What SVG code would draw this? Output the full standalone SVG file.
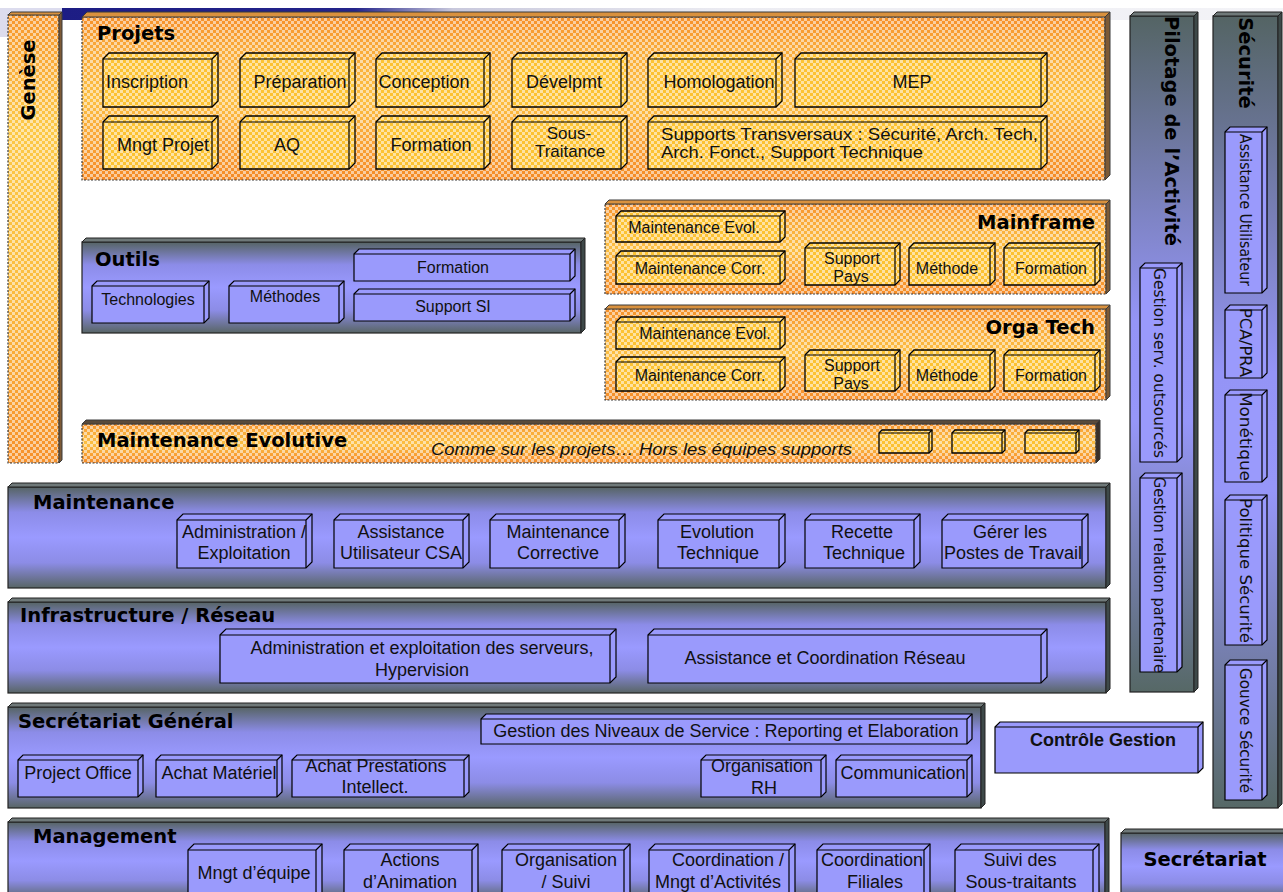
<svg xmlns="http://www.w3.org/2000/svg" width="1283" height="892" viewBox="0 0 1283 892">
<defs>
  <linearGradient id="gHead" x1="0" y1="0" x2="1" y2="0">
    <stop offset="0" stop-color="#1d1d84"/>
    <stop offset="0.24" stop-color="#24248a"/>
    <stop offset="0.32" stop-color="#c8c8dc"/>
    <stop offset="0.55" stop-color="#ececf2"/>
    <stop offset="1" stop-color="#f3f3f7"/>
  </linearGradient>
  <linearGradient id="gOr" x1="0" y1="0" x2="0" y2="1">
    <stop offset="0" stop-color="#f6902a"/>
    <stop offset="0.2" stop-color="#f9ab3a"/>
    <stop offset="0.5" stop-color="#fcbf42"/>
    <stop offset="0.8" stop-color="#f8a034"/>
    <stop offset="1" stop-color="#f48a26"/>
  </linearGradient>
  <linearGradient id="gGen" x1="0" y1="0" x2="0" y2="1">
    <stop offset="0" stop-color="#f7962c"/>
    <stop offset="0.25" stop-color="#fcc846"/>
    <stop offset="0.6" stop-color="#fbbd40"/>
    <stop offset="1" stop-color="#f6902a"/>
  </linearGradient>
  <linearGradient id="gBand" x1="0" y1="0" x2="0" y2="1">
    <stop offset="0" stop-color="#566464"/>
    <stop offset="0.25" stop-color="#8c8ce8"/>
    <stop offset="0.5" stop-color="#9a9aff"/>
    <stop offset="0.75" stop-color="#8c8ce6"/>
    <stop offset="1" stop-color="#586565"/>
  </linearGradient>
  <linearGradient id="gCol" x1="0" y1="0" x2="0" y2="1">
    <stop offset="0" stop-color="#546464"/>
    <stop offset="0.45" stop-color="#9494f6"/>
    <stop offset="0.6" stop-color="#9696f8"/>
    <stop offset="1" stop-color="#566866"/>
  </linearGradient>
  <pattern id="dots" width="6" height="6" patternUnits="userSpaceOnUse">
    <rect width="3" height="3" fill="#fff" fill-opacity="0.55"/>
    <rect x="3" y="3" width="3" height="3" fill="#fff" fill-opacity="0.55"/>
  </pattern>
  <pattern id="pIn" width="6" height="6" patternUnits="userSpaceOnUse">
    <rect width="6" height="6" fill="#fcc232"/>
    <rect width="3" height="3" fill="#fff" fill-opacity="0.55"/>
    <rect x="3" y="3" width="3" height="3" fill="#fff" fill-opacity="0.55"/>
  </pattern>
</defs>
<style>
  .t { font-family: "Liberation Sans", Arial, sans-serif; font-size: 18px; fill: #111; text-anchor: middle; }
  .s16 { font-size: 16px; }
  .s17 { font-size: 17px; }
  .h { font-family: "DejaVu Sans", Verdana, sans-serif; font-weight: bold; font-size: 19.5px; fill: #000; }
  .v { font-family: "DejaVu Sans", Verdana, sans-serif; font-size: 15px; fill: #111; }
  .it { font-family: "Liberation Sans", Arial, sans-serif; font-style: italic; font-size: 17px; fill: #111; }
  .ob { fill: url(#gOr); }
  .od { fill: url(#dots); stroke: #3a3a3a; stroke-width: 1.2; stroke-dasharray: 2 1.5; }
  .otop { fill: #d9913e; stroke: #3a3a3a; stroke-width: 1; }
  .oside { fill: #7d5a36; stroke: #3a3a3a; stroke-width: 1; }
  .ib { fill: url(#pIn); stroke: #000; stroke-width: 1.3; }
  .bb { fill: #9a9afc; stroke: #000; stroke-width: 1.2; }
  .e { fill: none; stroke: #000; stroke-width: 1.2; }
  .bf { fill: url(#gBand); stroke: #222; stroke-width: 1.2; }
  .cf { fill: url(#gCol); stroke: #222; stroke-width: 1.2; }
  .bt { fill: #6f7979; stroke: #222; stroke-width: 1; }
  .bs { fill: #3e4949; stroke: #222; stroke-width: 1; }
</style>

<!-- header strip -->
<g id="header">
  <rect x="0" y="8" width="62" height="29" fill="#dcdcee"/>
  <rect x="62" y="8" width="1221" height="12" fill="url(#gHead)"/>
</g>

<!-- Genèse -->
<g id="genese">
  <rect x="8" y="15" width="51" height="448" fill="url(#gGen)"/>
  <rect class="od" x="8" y="15" width="51" height="448"/>
  <polygon class="otop" points="8,15 11,12 62,12 59,15"/>
  <polygon class="oside" points="59,15 62,12 62,460 59,463"/>
  <text class="h" transform="translate(35,80) rotate(-90)" text-anchor="middle">Genèse</text>
</g>

<!-- Projets -->
<g id="projets">
  <rect class="ob" x="82" y="17" width="1023" height="163"/>
  <rect class="od" x="82" y="17" width="1023" height="163"/>
  <polygon class="otop" points="82,17 87,12 1110,12 1105,17"/>
  <polygon class="oside" points="1105,17 1110,12 1110,175 1105,180"/>
  <text class="h" x="97" y="40">Projets</text>
  <g id="p-inscription"><path class="ib" d="M103 59L109 53H218V101L212 107H103Z"/><path class="e" d="M103 59H212V107M212 59L218 53"/><text class="t" x="147" y="88">Inscription</text></g>
  <g id="p-preparation"><path class="ib" d="M240 59L246 53H355V101L349 107H240Z"/><path class="e" d="M240 59H349V107M349 59L355 53"/><text class="t" x="300" y="88">Préparation</text></g>
  <g id="p-conception"><path class="ib" d="M376 59L382 53H490V101L484 107H376Z"/><path class="e" d="M376 59H484V107M484 59L490 53"/><text class="t" x="424" y="88">Conception</text></g>
  <g id="p-develpmt"><path class="ib" d="M512 59L518 53H627V101L621 107H512Z"/><path class="e" d="M512 59H621V107M621 59L627 53"/><text class="t" x="564" y="88">Dévelpmt</text></g>
  <g id="p-homologation"><path class="ib" d="M648 59L654 53H782V101L776 107H648Z"/><path class="e" d="M648 59H776V107M776 59L782 53"/><text class="t" x="719" y="88">Homologation</text></g>
  <g id="p-mep"><path class="ib" d="M795 59L801 53H1047V101L1041 107H795Z"/><path class="e" d="M795 59H1041V107M1041 59L1047 53"/><text class="t" x="912" y="88">MEP</text></g>
  <g id="p-mngt"><path class="ib" d="M103 122L109 116H218V163L212 169H103Z"/><path class="e" d="M103 122H212V169M212 122L218 116"/><text class="t" x="163" y="151">Mngt Projet</text></g>
  <g id="p-aq"><path class="ib" d="M240 122L246 116H355V163L349 169H240Z"/><path class="e" d="M240 122H349V169M349 122L355 116"/><text class="t" x="287" y="151">AQ</text></g>
  <g id="p-formation"><path class="ib" d="M376 122L382 116H490V163L484 169H376Z"/><path class="e" d="M376 122H484V169M484 122L490 116"/><text class="t" x="431" y="151">Formation</text></g>
  <g id="p-soustraitance"><path class="ib" d="M512 122L518 116H627V163L621 169H512Z"/><path class="e" d="M512 122H621V169M621 122L627 116"/><text class="t s17" x="569" y="139">Sous-</text><text class="t s17" x="570" y="157">Traitance</text></g>
  <g id="p-supports"><path class="ib" d="M648 122L654 116H1047V163L1041 169H648Z"/><path class="e" d="M648 122H1041V169M1041 122L1047 116"/><text class="t s17" x="661" y="140" style="text-anchor:start" textLength="377" lengthAdjust="spacingAndGlyphs">Supports Transversaux : Sécurité, Arch. Tech,</text><text class="t s17" x="661" y="158" style="text-anchor:start" textLength="262" lengthAdjust="spacingAndGlyphs">Arch. Fonct., Support Technique</text></g>
</g>

<!-- Outils -->
<g id="outils">
  <rect class="bf" x="82" y="242" width="499" height="91"/>
  <polygon class="bt" points="82,242 86,238 585,238 581,242"/>
  <polygon class="bs" points="581,242 585,238 585,329 581,333"/>
  <text class="h" x="95" y="266">Outils</text>
  <g id="o-techno"><path class="bb" d="M92 286L97 281H209V318L204 323H92Z"/><path class="e" d="M92 286H204V323M204 286L209 281"/><text class="t s16" x="148" y="305">Technologies</text></g>
  <g id="o-methodes"><path class="bb" d="M229 286L234 281H344V318L339 323H229Z"/><path class="e" d="M229 286H339V323M339 286L344 281"/><text class="t s16" x="285" y="302">Méthodes</text></g>
  <g id="o-formation"><path class="bb" d="M354 254L359 249H575V276L570 281H354Z"/><path class="e" d="M354 254H570V281M570 254L575 249"/><text class="t s16" x="453" y="273">Formation</text></g>
  <g id="o-supportsi"><path class="bb" d="M354 294L359 289H575V316L570 321H354Z"/><path class="e" d="M354 294H570V321M570 294L575 289"/><text class="t s16" x="453" y="312">Support SI</text></g>
</g>

<!-- Mainframe -->
<g id="mainframe">
  <rect class="ob" x="605" y="204" width="501" height="90"/>
  <rect class="od" x="605" y="204" width="501" height="90"/>
  <polygon class="otop" points="605,204 609,200 1110,200 1106,204"/>
  <polygon class="oside" points="1106,204 1110,200 1110,290 1106,294"/>
  <text class="h" x="1095" y="229" text-anchor="end">Mainframe</text>
  <g id="m-evol"><path class="ib" d="M616 216L621 211H785V237L780 242H616Z"/><path class="e" d="M616 216H780V242M780 216L785 211"/><text class="t s16" x="694" y="233">Maintenance Evol.</text></g>
  <g id="m-corr"><path class="ib" d="M616 256L621 251H785V279L780 284H616Z"/><path class="e" d="M616 256H780V284M780 256L785 251"/><text class="t s16" x="700" y="274">Maintenance Corr.</text></g>
  <g id="m-support"><path class="ib" d="M805 248L810 243H900V280L895 285H805Z"/><path class="e" d="M805 248H895V285M895 248L900 243"/><text class="t s16" x="852" y="264">Support</text><text class="t s16" x="851" y="282">Pays</text></g>
  <g id="m-methode"><path class="ib" d="M909 248L914 243H995V280L990 285H909Z"/><path class="e" d="M909 248H990V285M990 248L995 243"/><text class="t s16" x="947" y="274">Méthode</text></g>
  <g id="m-formation"><path class="ib" d="M1004 248L1009 243H1100V280L1095 285H1004Z"/><path class="e" d="M1004 248H1095V285M1095 248L1100 243"/><text class="t s16" x="1051" y="274">Formation</text></g>
</g>

<!-- Orga Tech -->
<g id="orgatech">
  <rect class="ob" x="605" y="309" width="501" height="91"/>
  <rect class="od" x="605" y="309" width="501" height="91"/>
  <polygon class="otop" points="605,309 609,305 1110,305 1106,309"/>
  <polygon class="oside" points="1106,309 1110,305 1110,396 1106,400"/>
  <text class="h" x="1095" y="334" text-anchor="end">Orga Tech</text>
  <g id="ot-evol"><path class="ib" d="M616 322L621 317H785V344L780 349H616Z"/><path class="e" d="M616 322H780V349M780 322L785 317"/><text class="t s16" x="705" y="339">Maintenance Evol.</text></g>
  <g id="ot-corr"><path class="ib" d="M616 362L621 357H785V386L780 391H616Z"/><path class="e" d="M616 362H780V391M780 362L785 357"/><text class="t s16" x="700" y="381">Maintenance Corr.</text></g>
  <g id="ot-support"><path class="ib" d="M805 355L810 350H900V386L895 391H805Z"/><path class="e" d="M805 355H895V391M895 355L900 350"/><text class="t s16" x="852" y="371">Support</text><text class="t s16" x="851" y="389">Pays</text></g>
  <g id="ot-methode"><path class="ib" d="M909 355L914 350H995V386L990 391H909Z"/><path class="e" d="M909 355H990V391M990 355L995 350"/><text class="t s16" x="947" y="381">Méthode</text></g>
  <g id="ot-formation"><path class="ib" d="M1004 355L1009 350H1100V386L1095 391H1004Z"/><path class="e" d="M1004 355H1095V391M1095 355L1100 350"/><text class="t s16" x="1051" y="381">Formation</text></g>
</g>

<!-- Maintenance Evolutive -->
<g id="maint-evolutive">
  <rect class="ob" x="82" y="424" width="1014" height="39"/>
  <rect class="od" x="82" y="424" width="1014" height="39"/>
  <polygon class="otop" points="82,424 86,420 1100,420 1096,424" style="fill:#5a4a3a"/>
  <polygon class="oside" points="1096,424 1100,420 1100,459 1096,463" style="fill:#3a3028"/>
  <text class="h" x="97" y="447">Maintenance Evolutive</text>
  <text class="it" x="431" y="455" textLength="421" lengthAdjust="spacingAndGlyphs">Comme sur les projets… Hors les équipes supports</text>
  <g id="me-box1"><path class="ib" d="M879 433L882 430H932V450L929 453H879Z"/><path class="e" d="M879 433H929V453M929 433L932 430"/></g>
  <g id="me-box2"><path class="ib" d="M952 433L955 430H1005V450L1002 453H952Z"/><path class="e" d="M952 433H1002V453M1002 433L1005 430"/></g>
  <g id="me-box3"><path class="ib" d="M1025 433L1028 430H1079V450L1076 453H1025Z"/><path class="e" d="M1025 433H1076V453M1076 433L1079 430"/></g>
</g>

<!-- Maintenance -->
<g id="maintenance">
  <rect class="bf" x="8" y="487" width="1098" height="101"/>
  <polygon class="bt" points="8,487 12,483 1110,483 1106,487"/>
  <polygon class="bs" points="1106,487 1110,483 1110,584 1106,588"/>
  <text class="h" x="33" y="509">Maintenance</text>
  <g id="mt-admin"><path class="bb" d="M177 520L183 514H312V562L306 568H177Z"/><path class="e" d="M177 520H306V568M306 520L312 514"/><text class="t" x="244" y="538">Administration /</text><text class="t" x="244" y="559">Exploitation</text></g>
  <g id="mt-assist"><path class="bb" d="M334 520L340 514H469V562L463 568H334Z"/><path class="e" d="M334 520H463V568M463 520L469 514"/><text class="t" x="401" y="538">Assistance</text><text class="t" x="401" y="559">Utilisateur CSA</text></g>
  <g id="mt-corr"><path class="bb" d="M490 520L496 514H625V562L619 568H490Z"/><path class="e" d="M490 520H619V568M619 520L625 514"/><text class="t" x="558" y="538">Maintenance</text><text class="t" x="558" y="559">Corrective</text></g>
  <g id="mt-evol"><path class="bb" d="M658 520L664 514H785V562L779 568H658Z"/><path class="e" d="M658 520H779V568M779 520L785 514"/><text class="t" x="717" y="538">Evolution</text><text class="t" x="718" y="559">Technique</text></g>
  <g id="mt-recette"><path class="bb" d="M805 520L811 514H920V562L914 568H805Z"/><path class="e" d="M805 520H914V568M914 520L920 514"/><text class="t" x="862" y="538">Recette</text><text class="t" x="864" y="559">Technique</text></g>
  <g id="mt-postes"><path class="bb" d="M942 520L948 514H1088V562L1082 568H942Z"/><path class="e" d="M942 520H1082V568M1082 520L1088 514"/><text class="t" x="1010" y="538">Gérer les</text><text class="t" x="1013" y="559">Postes de Travail</text></g>
</g>

<!-- Infrastructure / Réseau -->
<g id="infra">
  <rect class="bf" x="8" y="602" width="1098" height="91"/>
  <polygon class="bt" points="8,602 12,598 1110,598 1106,602"/>
  <polygon class="bs" points="1106,602 1110,598 1110,689 1106,693"/>
  <text class="h" x="20" y="622">Infrastructure / Réseau</text>
  <g id="in-serveurs"><path class="bb" d="M220 635L226 629H616V677L610 683H220Z"/><path class="e" d="M220 635H610V683M610 635L616 629"/><text class="t" x="422" y="654">Administration et exploitation des serveurs,</text><text class="t" x="422" y="676">Hypervision</text></g>
  <g id="in-reseau"><path class="bb" d="M648 635L654 629H1047V677L1041 683H648Z"/><path class="e" d="M648 635H1041V683M1041 635L1047 629"/><text class="t" x="825" y="664">Assistance et Coordination Réseau</text></g>
</g>

<!-- Secrétariat Général -->
<g id="secretariat-general">
  <rect class="bf" x="8" y="707" width="973" height="101"/>
  <polygon class="bt" points="8,707 12,703 985,703 981,707"/>
  <polygon class="bs" points="981,707 985,703 985,804 981,808"/>
  <text class="h" x="18" y="728">Secrétariat Général</text>
  <g id="sg-niveaux"><path class="bb" d="M481 719L486 714H972V739L967 744H481Z"/><path class="e" d="M481 719H967V744M967 719L972 714"/><text class="t" x="726" y="737">Gestion des Niveaux de Service : Reporting et Elaboration</text></g>
  <g id="sg-po"><path class="bb" d="M18 760L23 755H143V792L138 797H18Z"/><path class="e" d="M18 760H138V797M138 760L143 755"/><text class="t" x="78" y="779">Project Office</text></g>
  <g id="sg-materiel"><path class="bb" d="M156 760L161 755H282V792L277 797H156Z"/><path class="e" d="M156 760H277V797M277 760L282 755"/><text class="t" x="219" y="779">Achat Matériel</text></g>
  <g id="sg-prestations"><path class="bb" d="M292 760L297 755H469V792L464 797H292Z"/><path class="e" d="M292 760H464V797M464 760L469 755"/><text class="t" x="376" y="772">Achat Prestations</text><text class="t" x="375" y="793">Intellect.</text></g>
  <g id="sg-rh"><path class="bb" d="M701 760L706 755H826V792L821 797H701Z"/><path class="e" d="M701 760H821V797M821 760L826 755"/><text class="t" x="762" y="772">Organisation</text><text class="t" x="764" y="794">RH</text></g>
  <g id="sg-com"><path class="bb" d="M836 760L841 755H972V792L967 797H836Z"/><path class="e" d="M836 760H967V797M967 760L972 755"/><text class="t" x="903" y="779">Communication</text></g>
</g>

<!-- Contrôle Gestion -->
<g id="controle-gestion">
  <path class="bb" d="M995 727L1000 722H1203V768L1198 773H995Z"/><path class="e" d="M995 727H1198V773M1198 727L1203 722"/>
  <text class="t" x="1103" y="746" style="font-weight:bold">Contrôle Gestion</text>
</g>

<!-- Management -->
<g id="management">
  <rect class="bf" x="8" y="822" width="1097" height="78"/>
  <polygon class="bt" points="8,822 12,818 1109,818 1105,822"/>
  <polygon class="bs" points="1105,822 1109,818 1109,896 1105,900"/>
  <text class="h" x="33" y="843">Management</text>
  <g id="mg-equipe"><path class="bb" d="M188 850L194 844H322V894L316 900H188Z"/><path class="e" d="M188 850H316V900M316 850L322 844"/><text class="t" x="254" y="879">Mngt d’équipe</text></g>
  <g id="mg-animation"><path class="bb" d="M344 850L350 844H478V894L472 900H344Z"/><path class="e" d="M344 850H472V900M472 850L478 844"/><text class="t" x="410" y="866">Actions</text><text class="t" x="410" y="888">d’Animation</text></g>
  <g id="mg-organisation"><path class="bb" d="M502 850L508 844H630V894L624 900H502Z"/><path class="e" d="M502 850H624V900M624 850L630 844"/><text class="t" x="566" y="866">Organisation</text><text class="t" x="566" y="888">/ Suivi</text></g>
  <g id="mg-coordination"><path class="bb" d="M649 850L655 844H795V894L789 900H649Z"/><path class="e" d="M649 850H789V900M789 850L795 844"/><text class="t" x="728" y="866">Coordination /</text><text class="t" x="718" y="888">Mngt d’Activités</text></g>
  <g id="mg-filiales"><path class="bb" d="M817 850L823 844H930V894L924 900H817Z"/><path class="e" d="M817 850H924V900M924 850L930 844"/><text class="t" x="872" y="866">Coordination</text><text class="t" x="875" y="888">Filiales</text></g>
  <g id="mg-soustraitants"><path class="bb" d="M955 850L961 844H1099V894L1093 900H955Z"/><path class="e" d="M955 850H1093V900M1093 850L1099 844"/><text class="t" x="1020" y="866">Suivi des</text><text class="t" x="1021" y="888">Sous-traitants</text></g>
</g>

<!-- Secrétariat -->
<g id="secretariat">
  <rect class="bf" x="1121" y="833" width="170" height="67"/>
  <polygon class="bt" points="1121,833 1125,829 1291,829 1287,833"/>
  <text class="h" x="1205" y="866" text-anchor="middle">Secrétariat</text>
</g>

<!-- Pilotage de l'Activité -->
<g id="pilotage">
  <rect class="cf" x="1130" y="16" width="64" height="676"/>
  <polygon class="bt" points="1130,16 1134,12 1198,12 1194,16"/>
  <polygon class="bs" points="1194,16 1198,12 1198,688 1194,692"/>
  <text class="h" transform="translate(1165,131) rotate(90)" text-anchor="middle">Pilotage de l’Activité</text>
  <g id="pi-outsources"><path class="bb" d="M1140 268L1145 263H1182V457L1177 462H1140Z"/><path class="e" d="M1140 268H1177V462M1177 268L1182 263"/><text class="v" transform="translate(1154,268) rotate(90)" textLength="190" lengthAdjust="spacingAndGlyphs">Gestion serv. outsourcés</text></g>
  <g id="pi-partenaire"><path class="bb" d="M1140 478L1145 473H1182V667L1177 672H1140Z"/><path class="e" d="M1140 478H1177V672M1177 478L1182 473"/><text class="v" transform="translate(1154,477) rotate(90)" textLength="196" lengthAdjust="spacingAndGlyphs">Gestion relation partenaire</text></g>
</g>

<!-- Sécurité -->
<g id="securite">
  <rect class="cf" x="1213" y="16" width="65" height="792"/>
  <polygon class="bt" points="1213,16 1217,12 1282,12 1278,16"/>
  <polygon class="bs" points="1278,16 1282,12 1282,804 1278,808"/>
  <text class="h" transform="translate(1239,63) rotate(90)" text-anchor="middle">Sécurité</text>
  <g id="se-assistance"><path class="bb" d="M1225 132L1230 127H1267V288L1262 293H1225Z"/><path class="e" d="M1225 132H1262V293M1262 132L1267 127"/><text class="v" transform="translate(1240,134) rotate(90)" textLength="152" lengthAdjust="spacingAndGlyphs">Assistance Utilisateur</text></g>
  <g id="se-pca"><path class="bb" d="M1225 310L1230 305H1267V373L1262 378H1225Z"/><path class="e" d="M1225 310H1262V378M1262 310L1267 305"/><text class="v" transform="translate(1240,308) rotate(90)" textLength="69" lengthAdjust="spacingAndGlyphs">PCA/PRA</text></g>
  <g id="se-monetique"><path class="bb" d="M1225 395L1230 390H1267V477L1262 482H1225Z"/><path class="e" d="M1225 395H1262V482M1262 395L1267 390"/><text class="v" transform="translate(1240,392) rotate(90)" textLength="89" lengthAdjust="spacingAndGlyphs">Monétique</text></g>
  <g id="se-politique"><path class="bb" d="M1225 500L1230 495H1267V640L1262 645H1225Z"/><path class="e" d="M1225 500H1262V645M1262 500L1267 495"/><text class="v" transform="translate(1240,498) rotate(90)" textLength="145" lengthAdjust="spacingAndGlyphs">Politique Sécurité</text></g>
  <g id="se-gouvce"><path class="bb" d="M1225 665L1230 660H1267V795L1262 800H1225Z"/><path class="e" d="M1225 665H1262V800M1262 665L1267 660"/><text class="v" transform="translate(1240,668) rotate(90)" textLength="125" lengthAdjust="spacingAndGlyphs">Gouvce Sécurité</text></g>
</g>
</svg>
